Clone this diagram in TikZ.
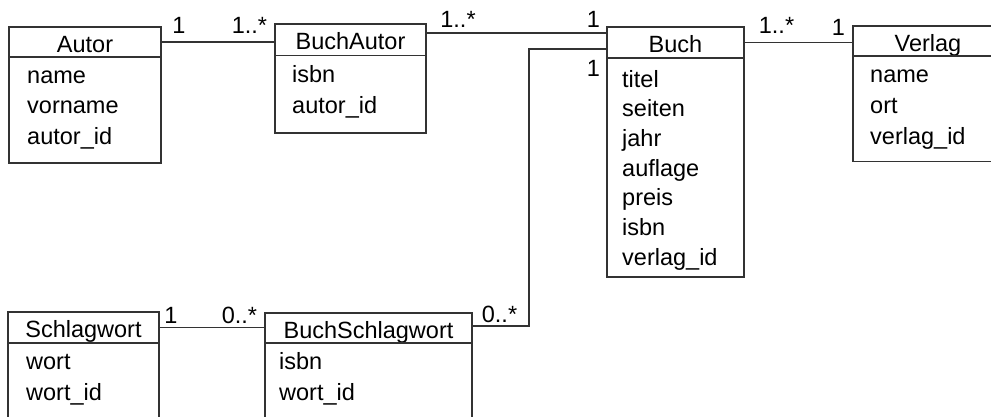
\documentclass[tikz,border=0pt]{standalone}
\usepackage{fontspec}
\setmainfont{Liberation Sans}
\usepackage{tikz}
\usetikzlibrary{
  positioning,
  calc
}

\tikzset{
  kopf/.style={draw=black!80, line width=1.2pt, anchor=north west, inner sep=0pt,
    outer sep=0pt, text height=20pt, text depth=0pt, font=\fontsize{23.5}{28}\selectfont},
  rumpf/.style={draw=black!80, line width=1.2pt, anchor=north west, inner sep=0pt, outer sep=0pt},
  attr/.style={anchor=base west, inner sep=0pt, font=\fontsize{23.5}{28}\selectfont},
  mult/.style={anchor=base, inner sep=0pt, font=\fontsize{23.5}{28}\selectfont},
  verbindung/.style={draw=black!80, line width=1.2pt}
}

\begin{document}
\begin{tikzpicture}[x=1pt,y=-1pt]
  \useasboundingbox (0,0) rectangle (991,416);
  \clip (0,0) rectangle (991,416);

  % Klasse Autor
  \node[kopf, minimum width=152pt, minimum height=30pt] (autorK) at (9,27) {Autor};
  \node[rumpf, minimum width=152pt, minimum height=106pt] (autorR) at (autorK.south west) {};
  \foreach \t/\y [count=\i] in {name/83, vorname/113.5, autor\_id/144}{
    \node[attr] (autor\i) at (27,\y) {\t};
  }

  % Klasse BuchAutor
  \node[kopf, minimum width=151pt, minimum height=31.5pt] (buchautorK) at (275,24) {BuchAutor};
  \node[rumpf, minimum width=151pt, minimum height=77.5pt] (buchautorR) at (buchautorK.south west) {};
  \foreach \t/\y [count=\i] in {isbn/82, autor\_id/113}{
    \node[attr] (buchautor\i) at (292,\y) {\t};
  }

  % Klasse Buch
  \node[kopf, minimum width=137pt, minimum height=31pt] (buchK) at (607,27) {Buch};
  \node[rumpf, minimum width=137pt, minimum height=219pt] (buchR) at (buchK.south west) {};
  \foreach \t [count=\i] in {titel,seiten,jahr,auflage,preis,isbn,verlag\_id}{
    \node[attr] (buch\i) at (622,{87+29.7*(\i-1)}) {\t};
  }

  % Klasse Verlag
  \node[kopf, minimum width=150pt, minimum height=30pt] (verlagK) at (853,26) {Verlag};
  \node[rumpf, minimum width=150pt, minimum height=105.5pt] (verlagR) at (verlagK.south west) {};
  \foreach \t/\y [count=\i] in {name/82, ort/113, verlag\_id/144}{
    \node[attr] (verlag\i) at (870,\y) {\t};
  }

  % Klasse Schlagwort
  \node[kopf, minimum width=151pt, minimum height=31pt] (schlagK) at (8,312) {Schlagwort};
  \node[rumpf, minimum width=151pt, minimum height=120pt] (schlagR) at (schlagK.south west) {};
  \foreach \t/\y [count=\i] in {wort/369, wort\_id/400}{
    \node[attr] (schlag\i) at (26,\y) {\t};
  }

  % Klasse BuchSchlagwort
  \node[kopf, minimum width=207pt, minimum height=30pt] (bschlagK) at (265,313) {BuchSchlagwort};
  \node[rumpf, minimum width=207pt, minimum height=120pt] (bschlagR) at (bschlagK.south west) {};
  \foreach \t/\y [count=\i] in {isbn/369, wort\_id/400}{
    \node[attr] (bschlag\i) at (279,\y) {\t};
  }

  % Beziehungen
  \coordinate (ba) at ([yshift=9.5pt]buchK.west);
  \coordinate (bs) at ([yshift=-6.5pt]buchK.west);
  \coordinate (knick) at (529,49);
  \coordinate (bsE) at ([yshift=2pt]bschlagK.east);
  \draw[verbindung] (autorK.east) -- (autorK.east -| buchautorK.west);
  \draw[verbindung] (ba) -- (ba -| buchautorK.east);
  \draw[verbindung] (buchK.east) -- (buchK.east -| verlagK.west);
  \draw[verbindung] (bs) -- (knick) |- (bsE);
  \draw[verbindung] (schlagK.east) -- (schlagK.east -| bschlagK.west);

  % Multiplizitaeten
  \node[mult] (autorM) at (179,33) {1};
  \node[mult] (buchautorM1) at (249.5,33) {1..*};
  \node[mult] (buchautorM2) at (458,27) {1..*};
  \node[mult] (buchM1) at (593.5,27) {1};
  \node[mult] (buchM2) at (593.5,76) {1};
  \node[mult] (buchM3) at (776.5,33) {1..*};
  \node[mult] (verlagM) at (838.5,35) {1};
  \node[mult] (schlagM) at (171,323) {1};
  \node[mult] (bschlagM1) at (239.5,323) {0..*};
  \node[mult] (bschlagM2) at (499.5,322) {0..*};
\end{tikzpicture}
\end{document}
